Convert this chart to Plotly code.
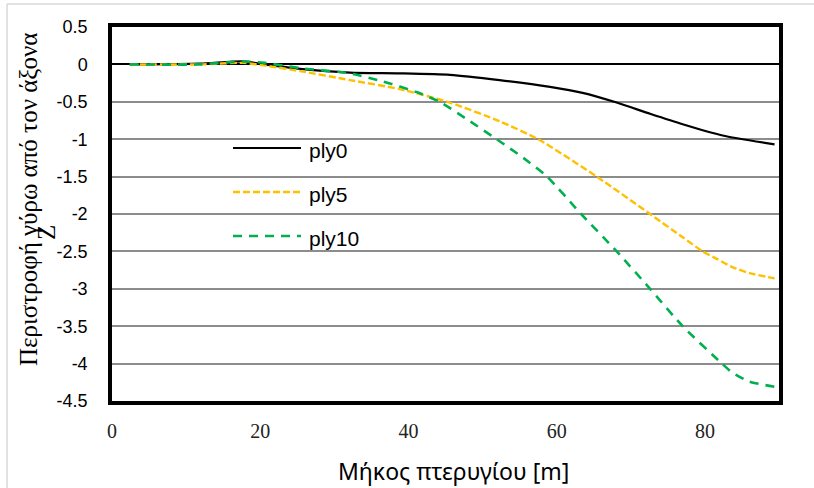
import plotly.graph_objects as go

# ---- data ----
ply0_x = [2.4, 11.9, 17.7, 20.6, 25.4, 32.1, 38.8, 45.6, 52.3, 59.1, 63.5, 68.1, 72.6, 77.0, 82.4, 89.4]
ply0_y = [0.0, 0.01, 0.04, 0.0, -0.06, -0.11, -0.12, -0.14, -0.21, -0.30, -0.38, -0.51, -0.66, -0.80, -0.95, -1.07]

ply5_x = [2.4, 11.9, 17.7, 20.9, 25.4, 32.1, 38.8, 45.6, 52.3, 57.5, 65.4, 72.6, 77.0, 79.7, 81.6, 83.7, 86.0, 89.4]
ply5_y = [0.0, 0.0, 0.02, -0.02, -0.09, -0.21, -0.33, -0.51, -0.76, -1.0, -1.5, -2.0, -2.31, -2.5, -2.6, -2.71, -2.79, -2.86]

ply10_x = [2.4, 11.9, 17.7, 20.6, 25.4, 32.1, 36.6, 41.1, 44.2, 48.0, 51.9, 55.5, 58.7, 63.3, 68.1, 72.6, 77.0, 82.3, 83.7, 86.0, 89.4]
ply10_y = [0.0, 0.0, 0.04, 0.02, -0.05, -0.12, -0.23, -0.37, -0.50, -0.74, -1.0, -1.25, -1.5, -2.0, -2.5, -3.0, -3.5, -4.0, -4.12, -4.24, -4.31]

series_names = ["ply0", "ply5", "ply10"]
x_ticks = [0, 20, 40, 60, 80]
y_ticks = [0.5, 0, -0.5, -1, -1.5, -2, -2.5, -3, -3.5, -4, -4.5]
y_tick_text = ["0.5", "0", "-0.5", "-1", "-1.5", "-2", "-2.5", "-3", "-3.5", "-4", "-4.5"]
x_title = "Μήκος πτερυγίου [m]"
y_title_main = "Περιστροφή γύρω από τον άξονα"
y_title_z = "Z"

# ---- styles ----
colors = ["#000000", "#FFC000", "#00B050"]
dashes = ["solid", "7px,3px", "9px,7px"]
widths = [2.2, 2.4, 2.6]

W, H = 814, 488
L, R, T, B = 112, 35, 27, 87
pw, ph = W - L - R, H - T - B


def px(xp):
    return (xp - L) / pw


def py(yp):
    return (H - B - yp) / ph


fig = go.Figure()
for xs, ys, name, c, d, w in zip([ply0_x, ply5_x, ply10_x], [ply0_y, ply5_y, ply10_y],
                                 series_names, colors, dashes, widths):
    fig.add_trace(go.Scatter(x=xs, y=ys, mode="lines", name=name,
                             line=dict(color=c, dash=d, width=w, shape="spline", smoothing=0.6),
                             showlegend=False))

shapes = []
annotations = []
# manual legend
leg_y = [148, 192, 236]
for name, c, d, w, ly in zip(series_names, colors, dashes, widths, leg_y):
    shapes.append(dict(type="line", xref="paper", yref="paper",
                       x0=px(233), x1=px(301), y0=py(ly), y1=py(ly),
                       line=dict(color=c, dash=d, width=w)))
    annotations.append(dict(text=name, xref="paper", yref="paper", x=px(307), y=py(ly + 2),
                            xanchor="left", yanchor="middle", showarrow=False,
                            font=dict(family="Liberation Sans, Arial", size=21, color="#000")))

# outer chart-area border (left and top edges visible)
shapes.append(dict(type="line", xref="paper", yref="paper", x0=px(7), x1=px(7), y0=py(4), y1=py(H + 5),
                   line=dict(color="#D9D9D9", width=1.5)))
shapes.append(dict(type="line", xref="paper", yref="paper", x0=px(7), x1=px(W + 5), y0=py(4), y1=py(4),
                   line=dict(color="#D9D9D9", width=1.5)))

# axis titles
annotations.append(dict(text=y_title_main, xref="paper", yref="paper", x=px(29), y=py(200),
                        textangle=-90, xanchor="center", yanchor="middle", showarrow=False,
                        font=dict(family="Liberation Serif", size=25, color="#000")))
annotations.append(dict(text=y_title_z, xref="paper", yref="paper", x=px(46), y=py(233),
                        textangle=-90, xanchor="center", yanchor="middle", showarrow=False,
                        font=dict(family="Liberation Serif", size=25, color="#000")))
annotations.append(dict(text=x_title, xref="paper", yref="paper", x=px(453), y=py(471),
                        xanchor="center", yanchor="middle", showarrow=False,
                        font=dict(family="Noto Sans", size=23, color="#000")))

fig.update_layout(
    width=W, height=H,
    margin=dict(l=L, r=R, t=T, b=B, pad=0),
    paper_bgcolor="white", plot_bgcolor="white",
    shapes=shapes, annotations=annotations,
    xaxis=dict(range=[0, 90], tickvals=x_ticks, showgrid=False, zeroline=False,
               showline=True, linecolor="black", linewidth=3.5, mirror=True,
               ticks="", ticklabelstandoff=9,
               tickfont=dict(family="Liberation Serif", size=20, color="#222")),
    yaxis=dict(range=[-4.5, 0.5], tickvals=y_ticks, ticktext=y_tick_text,
               showgrid=True, gridcolor="#8C8C8C", gridwidth=1.5,
               zeroline=True, zerolinecolor="#000000", zerolinewidth=1.5,
               showline=True, linecolor="black", linewidth=3.5, mirror=True,
               ticks="", ticklabelstandoff=17,
               tickfont=dict(family="Liberation Sans, Arial", size=18, color="#000")),
)

fig.write_html("out.html")
